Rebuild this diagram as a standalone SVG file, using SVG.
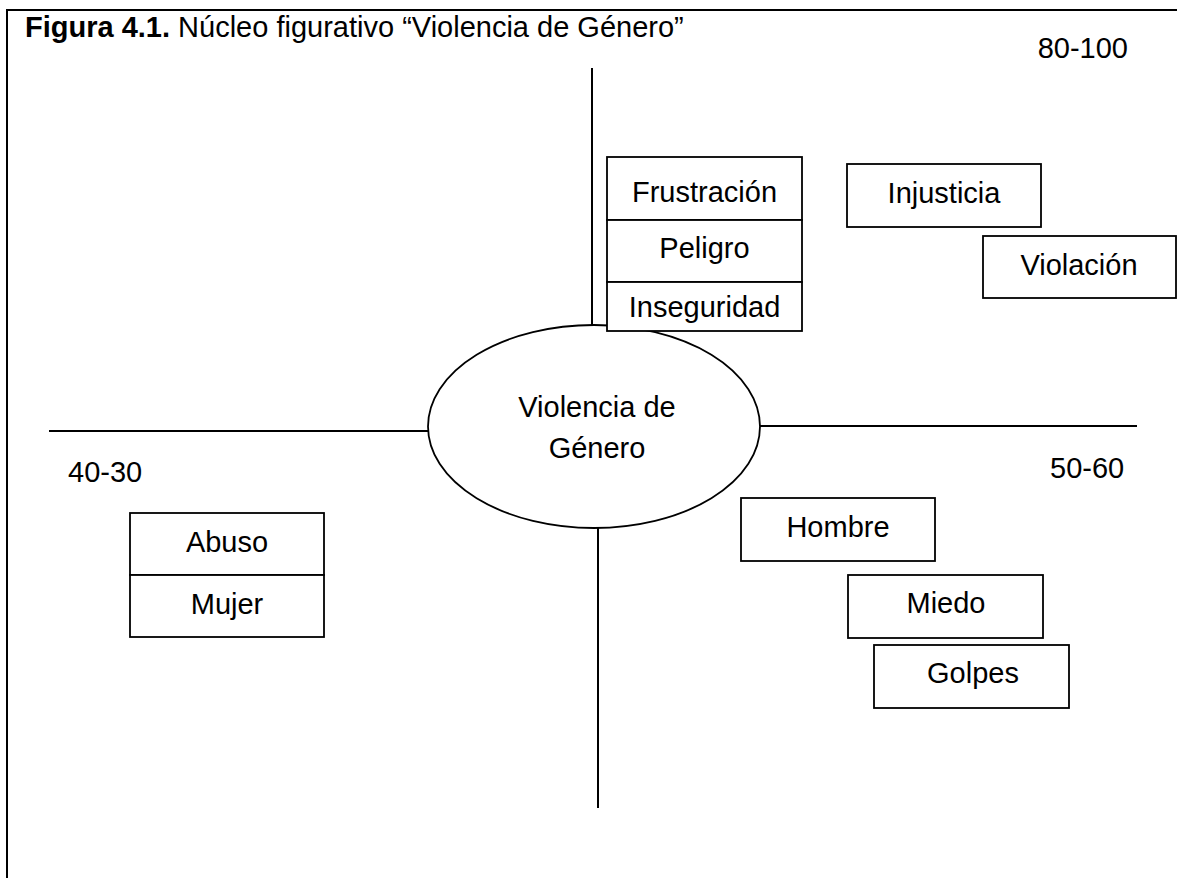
<svg xmlns="http://www.w3.org/2000/svg" width="1177" height="878" viewBox="0 0 1177 878">
<style>
.ln{stroke:#000;stroke-width:2;fill:none}
.bx{fill:#fff;stroke:#000;stroke-width:1.8}
.t{font-family:"Liberation Sans",Arial,sans-serif;font-size:29px;fill:#000}
.c{text-anchor:middle}
</style>
<rect width="1177" height="878" fill="#fff"/>
<g id="frame">
<polyline class="ln" points="7,878 7,10 1177,10"/>
</g>
<text class="t" x="25" y="37"><tspan font-weight="bold">Figura 4.1.</tspan> Núcleo figurativo “Violencia de Género”</text>
<text class="t" x="1128" y="58" text-anchor="end">80-100</text>
<text class="t" x="68" y="482">40-30</text>
<text class="t" x="1050" y="478">50-60</text>
<g id="connectors">
<line class="ln" x1="592" y1="68" x2="592" y2="326"/>
<line class="ln" x1="598" y1="527" x2="598" y2="808"/>
<line class="ln" x1="49" y1="431" x2="429" y2="431"/>
<line class="ln" x1="759" y1="426" x2="1137" y2="426"/>
</g>
<g id="center">
<ellipse class="bx" cx="594" cy="426.5" rx="166" ry="101.5"/>
<text class="t c" x="597" y="417">Violencia de</text>
<text class="t c" x="597" y="458">Género</text>
</g>
<g id="frustracion">
<rect class="bx" x="607" y="157" width="195" height="63"/>
<text class="t c" x="704.5" y="202">Frustración</text>
</g>
<g id="peligro">
<rect class="bx" x="607" y="220" width="195" height="62"/>
<text class="t c" x="704.5" y="258">Peligro</text>
</g>
<g id="inseguridad">
<rect class="bx" x="607" y="282" width="195" height="49"/>
<text class="t c" x="704.5" y="317">Inseguridad</text>
</g>
<g id="injusticia">
<rect class="bx" x="847" y="164" width="194" height="63"/>
<text class="t c" x="944" y="203">Injusticia</text>
</g>
<g id="violacion">
<rect class="bx" x="983" y="236" width="193" height="62"/>
<text class="t c" x="1079" y="275">Violación</text>
</g>
<g id="hombre">
<rect class="bx" x="741" y="498" width="194" height="63"/>
<text class="t c" x="838" y="537">Hombre</text>
</g>
<g id="miedo">
<rect class="bx" x="848" y="575" width="195" height="63"/>
<text class="t c" x="946" y="613">Miedo</text>
</g>
<g id="golpes">
<rect class="bx" x="874" y="645" width="195" height="63"/>
<text class="t c" x="973" y="683">Golpes</text>
</g>
<g id="abuso">
<rect class="bx" x="130" y="513" width="194" height="62"/>
<text class="t c" x="227" y="552">Abuso</text>
</g>
<g id="mujer">
<rect class="bx" x="130" y="575" width="194" height="62"/>
<text class="t c" x="227" y="614">Mujer</text>
</g>
</svg>
